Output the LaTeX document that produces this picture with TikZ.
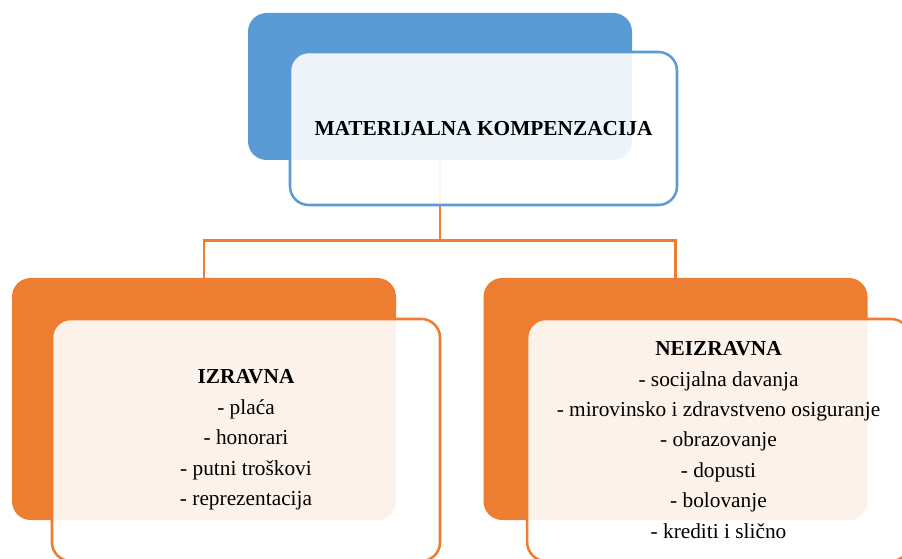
\documentclass[tikz,border=0pt]{standalone}
\usepackage{fontspec}
\setmainfont{Liberation Serif}
\usepackage{tikz}
\usetikzlibrary{positioning}
\definecolor{boxblue}{HTML}{5B9BD5}
\definecolor{boxorange}{HTML}{ED7D31}
\tikzset{
  back/.style={rectangle, rounded corners=14pt, draw=none, minimum width=288pt},
  front/.style={rectangle, rounded corners=14pt, line width=1.9pt, fill=white,
    fill opacity=0.9, text opacity=1, align=center,
    font=\fontsize{16}{22.8}\selectfont},
  link/.style={draw=boxorange, line width=1.9pt},
}

\begin{document}
\begin{tikzpicture}[x=0.75pt, y=-0.75pt]
    \useasboundingbox (0,0) rectangle (902,559);
    \clip (0,0) rectangle (902,559);

    % back boxes
    \node[back, fill=boxblue, minimum height=110.25pt] (topback) at (440,86.5) {};
    \node[back, fill=boxorange, minimum height=181.5pt] (leftback) at (204,399) {};
    \node[back, fill=boxorange, minimum height=181.5pt] (rightback) at (675.5,399) {};

    % links
    \draw[link] (topback.south) -- ++(0,80) coordinate (fork);
    \draw[link] (fork) -| (leftback.north);
    \draw[link] (fork) -| (rightback.north);

    % front boxes
    \node[front, draw=boxblue, minimum width=290.25pt, minimum height=114.75pt]
      (topfront) at (483.5,128.5) {\textbf{MATERIJALNA KOMPENZACIJA}};
    \node[front, draw=boxorange, minimum width=291pt, minimum height=181.5pt]
      (leftfront) at (246,440) {\textbf{IZRAVNA}\\- plaća\\- honorari\\- putni troškovi\\- reprezentacija};
    \node[front, draw=boxorange, minimum width=287pt, minimum height=181.5pt]
      (rightfront) at (718.5,440) {\textbf{NEIZRAVNA}\\- socijalna davanja\\- mirovinsko i zdravstveno osiguranje\\- obrazovanje\\- dopusti\\- bolovanje\\- krediti i slično};

\end{tikzpicture}
\end{document}
